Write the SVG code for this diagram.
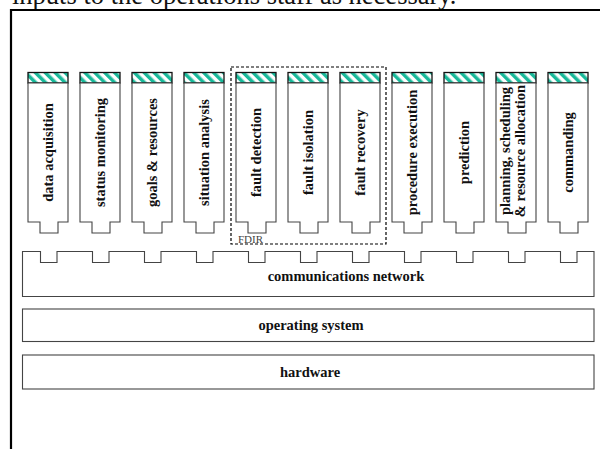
<svg xmlns="http://www.w3.org/2000/svg" width="600" height="449" viewBox="0 0 600 449">
<defs>
<pattern id="hatch" patternUnits="userSpaceOnUse" width="7" height="7" patternTransform="rotate(-45)">
<rect width="7" height="7" fill="#fff"/>
<rect width="3.5" height="7" fill="#19b99a"/>
</pattern>
</defs>
<style>
.hat{fill:url(#hatch);stroke:#111;stroke-width:1.3}
.card{fill:#fff;stroke:#444;stroke-width:1.1}
.box{fill:#fff;stroke:#444;stroke-width:1.1}
.lbl{font-family:"Liberation Serif","Times New Roman",serif;font-weight:bold;font-size:14.5px;fill:#111;text-anchor:middle}
.vl{font-family:"Liberation Serif","Times New Roman",serif;font-weight:bold;font-size:14.5px;fill:#111;text-anchor:middle;dominant-baseline:central}
</style>
<rect width="600" height="449" fill="#fff"/>
<text x="12" y="4" font-family="Liberation Serif, Times New Roman, serif" font-size="26.5" fill="#111">inputs to the operations staff as necessary.</text>
<path d="M11,449 V10 H600" fill="none" stroke="#000" stroke-width="2.2"/>
<g id="connectors"></g>
<g id="fdir">
<rect x="231" y="67" width="155" height="177" fill="none" stroke="#000" stroke-width="1.2" stroke-dasharray="3,2"/>
<text x="238" y="243" font-family="Liberation Serif, Times New Roman, serif" font-size="11" fill="#444">FDIR</text>
</g>
<g id="card-data-acquisition">
<rect class="hat" x="28" y="72.5" width="40" height="10.5"/>
<path class="card" d="M28,83 V222 H40 V233 H58 V222 H68 V83 Z"/>
<text class="vl" transform="translate(48,152.5) rotate(-90)">data acquisition</text>
</g>
<g id="card-status-monitoring">
<rect class="hat" x="80" y="72.5" width="40" height="10.5"/>
<path class="card" d="M80,83 V222 H92 V233 H110 V222 H120 V83 Z"/>
<text class="vl" transform="translate(100,152.5) rotate(-90)">status monitoring</text>
</g>
<g id="card-goals-resources">
<rect class="hat" x="132" y="72.5" width="40" height="10.5"/>
<path class="card" d="M132,83 V222 H144 V233 H162 V222 H172 V83 Z"/>
<text class="vl" transform="translate(152,152.5) rotate(-90)">goals &amp; resources</text>
</g>
<g id="card-situation-analysis">
<rect class="hat" x="184" y="72.5" width="40" height="10.5"/>
<path class="card" d="M184,83 V222 H196 V233 H214 V222 H224 V83 Z"/>
<text class="vl" transform="translate(204,152.5) rotate(-90)">situation analysis</text>
</g>
<g id="card-fault-detection">
<rect class="hat" x="236" y="72.5" width="40" height="10.5"/>
<path class="card" d="M236,83 V222 H248 V233 H266 V222 H276 V83 Z"/>
<text class="vl" transform="translate(256,152.5) rotate(-90)">fault detection</text>
</g>
<g id="card-fault-isolation">
<rect class="hat" x="288" y="72.5" width="40" height="10.5"/>
<path class="card" d="M288,83 V222 H300 V233 H318 V222 H328 V83 Z"/>
<text class="vl" transform="translate(308,152.5) rotate(-90)">fault isolation</text>
</g>
<g id="card-fault-recovery">
<rect class="hat" x="340" y="72.5" width="40" height="10.5"/>
<path class="card" d="M340,83 V222 H352 V233 H370 V222 H380 V83 Z"/>
<text class="vl" transform="translate(360,152.5) rotate(-90)">fault recovery</text>
</g>
<g id="card-procedure-execution">
<rect class="hat" x="392" y="72.5" width="40" height="10.5"/>
<path class="card" d="M392,83 V222 H404 V233 H422 V222 H432 V83 Z"/>
<text class="vl" transform="translate(412,152.5) rotate(-90)">procedure execution</text>
</g>
<g id="card-prediction">
<rect class="hat" x="444" y="72.5" width="40" height="10.5"/>
<path class="card" d="M444,83 V222 H456 V233 H474 V222 H484 V83 Z"/>
<text class="vl" transform="translate(464,152.5) rotate(-90)">prediction</text>
</g>
<g id="card-planning">
<rect class="hat" x="496" y="72.5" width="40" height="10.5"/>
<path class="card" d="M496,83 V222 H508 V233 H526 V222 H536 V83 Z"/>
<text class="vl" transform="translate(504.5,151) rotate(-90)">planning, scheduling</text>
<text class="vl" transform="translate(519.5,151) rotate(-90)">&amp; resource allocation</text>
</g>
<g id="card-commanding">
<rect class="hat" x="548" y="72.5" width="40" height="10.5"/>
<path class="card" d="M548,83 V222 H560 V233 H578 V222 H588 V83 Z"/>
<text class="vl" transform="translate(568,152.5) rotate(-90)">commanding</text>
</g>
<g id="communications-network">
<path class="box" d="M22.5,251.5 H40.5 V262.5 H57 V251.5 H92.5 V262.5 H109 V251.5 H144.5 V262.5 H161 V251.5 H196.5 V262.5 H213 V251.5 H248.5 V262.5 H265 V251.5 H300.5 V262.5 H317 V251.5 H352.5 V262.5 H369 V251.5 H404.5 V262.5 H421 V251.5 H456.5 V262.5 H473 V251.5 H508.5 V262.5 H525 V251.5 H560.5 V262.5 H577 V251.5 H594 V296.5 H22.5 Z"/>
<text class="lbl" x="346" y="281">communications network</text>
</g>
<g id="operating-system">
<rect class="box" x="22.5" y="309" width="571.5" height="32.5"/>
<text class="lbl" x="311" y="330">operating system</text>
</g>
<g id="hardware">
<rect class="box" x="22.5" y="355" width="571.5" height="34"/>
<text class="lbl" x="310" y="376.5">hardware</text>
</g>
</svg>
